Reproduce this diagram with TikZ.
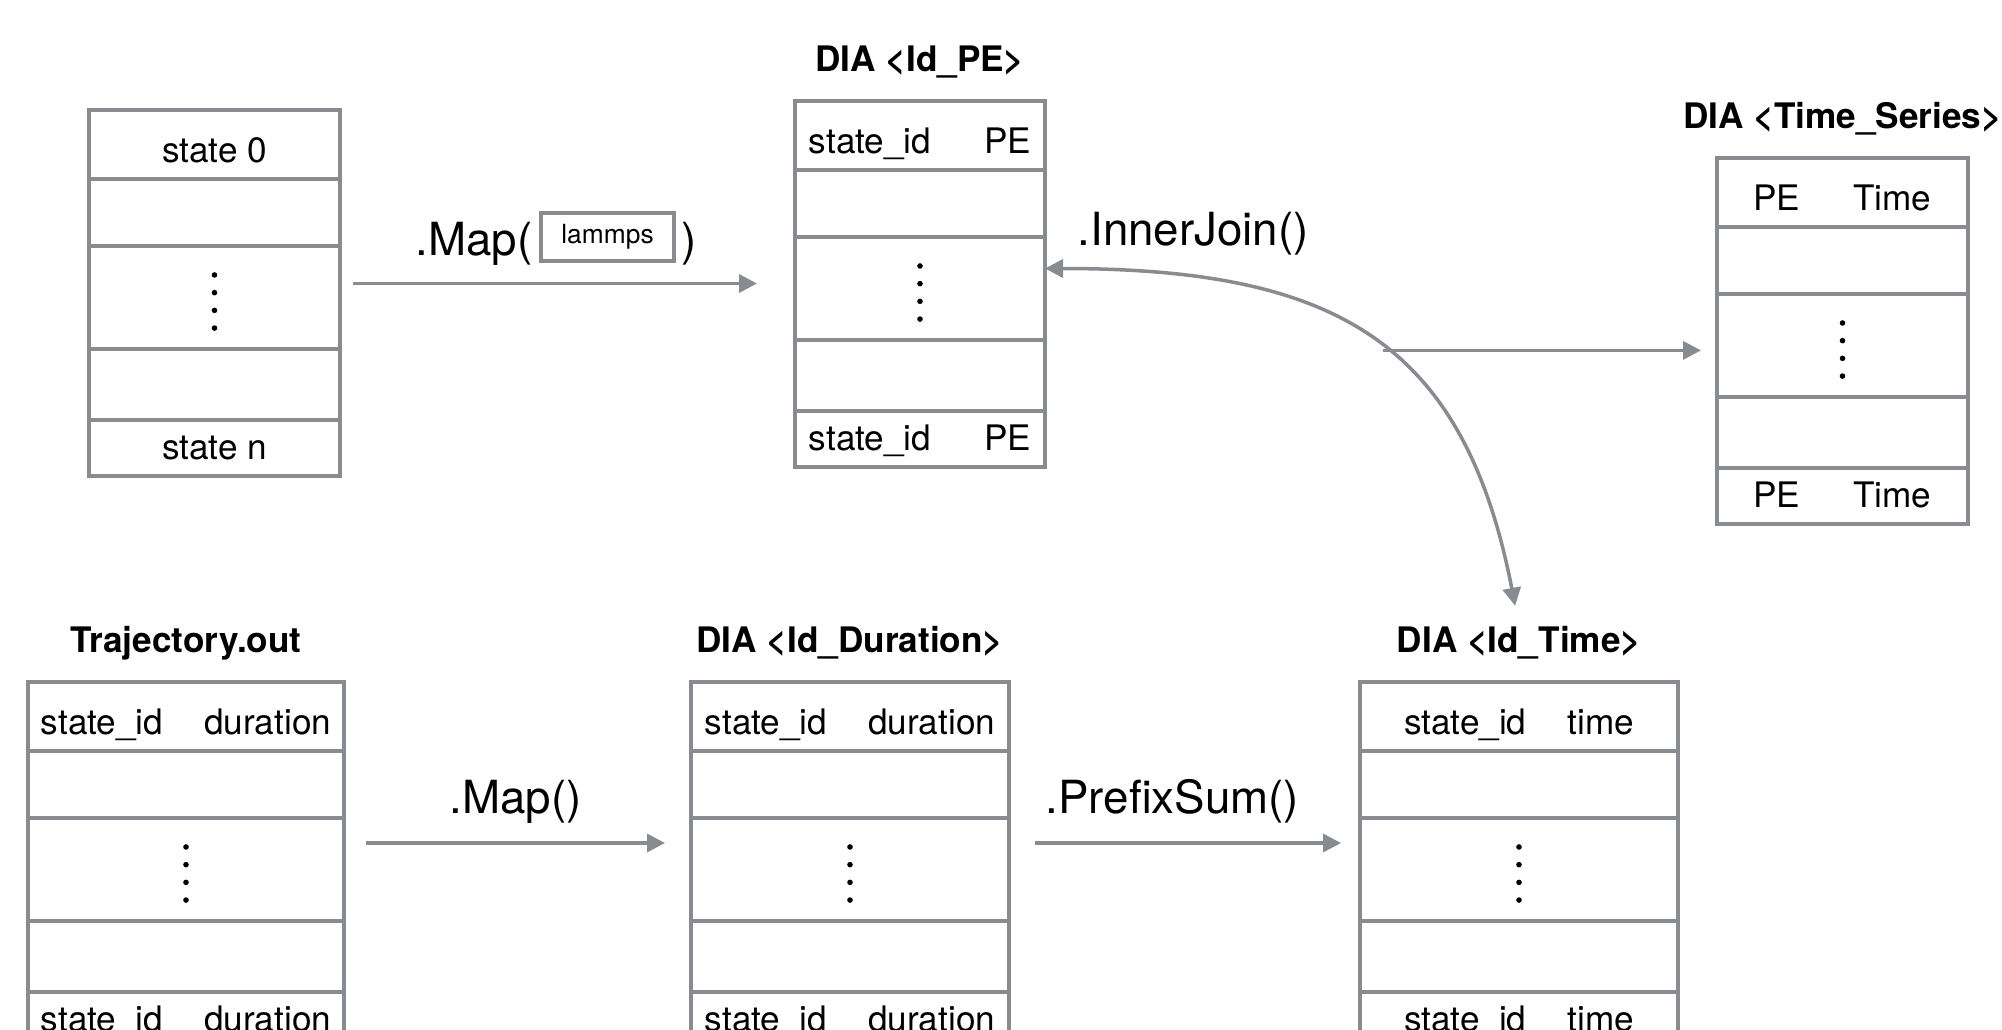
\documentclass[tikz,border=0pt]{standalone}
\usepackage{fontspec}
\setmainfont{TeX Gyre Heros}
\usepackage{tikz}
\usetikzlibrary{positioning, arrows.meta}
\definecolor{lineGray}{RGB}{136, 139, 144}

\begin{document}
\begin{tikzpicture}[
    cell/.style={rectangle, draw=lineGray, line width=1pt, outer sep=0pt,
                 inner sep=0pt, font=\fontsize{10}{12}\selectfont},
    dianame/.style={font=\fontsize{10}{12}\selectfont\bfseries,
                    inner sep=0pt, text depth=0pt},
    oplabel/.style={font=\fontsize{13}{15}\selectfont, inner sep=0pt},
    arr/.style={-{Triangle[length=1.8mm, width=1.8mm]}, line width=1pt, lineGray},
    arrboth/.style={{Triangle[length=1.8mm, width=1.8mm]}-{Triangle[length=1.8mm, width=1.8mm]},
                    line width=1pt, lineGray},
  ]
    \useasboundingbox (0,0) rectangle (20.02,-10.30);
    \clip (0,0) rectangle (20.02,-10.30);

    % Tables: five rows each, dots in the middle row
    \foreach \tb/\x/\y/\w/\first/\last in {
        st/0.89/1.10/2.51/{state 0}/{state n},
        pe/7.95/1.01/2.50/{state\_id\hspace{0.53cm}PE}/{state\_id\hspace{0.53cm}PE},
        ts/17.17/1.58/2.51/{PE\hspace{0.53cm}Time}/{PE\hspace{0.53cm}Time},
        tr/0.28/6.82/3.16/{state\_id\hspace{0.41cm}duration}/{state\_id\hspace{0.41cm}duration},
        du/6.91/6.82/3.18/{state\_id\hspace{0.41cm}duration}/{state\_id\hspace{0.41cm}duration},
        ti/13.60/6.82/3.18/{state\_id\hspace{0.41cm}time}/{state\_id\hspace{0.41cm}time}} {
      \node[cell, anchor=north west, minimum width=\w cm, minimum height=0.69cm,
            text height=10pt, text depth=0pt] (\tb1) at (\x,-\y) {\first};
      \node[cell, below=0pt of \tb1, minimum width=\w cm, minimum height=0.67cm] (\tb2) {};
      \node[cell, below=0pt of \tb2, minimum width=\w cm, minimum height=1.03cm] (\tb3) {};
      \node[cell, below=0pt of \tb3, minimum width=\w cm, minimum height=0.71cm] (\tb4) {};
      \node[cell, below=0pt of \tb4, minimum width=\w cm, minimum height=0.56cm,
            text height=6.8pt, text depth=0pt] (\tb5) {\last};
      \foreach \k in {1,...,4}
        \fill[black] ([yshift={(2.5-\k)*0.177cm-0.04cm}]\tb3.center) circle (0.028cm);
    }

    % Table names
    \node[dianame, above=0.29cm of pe1] (peName) {DIA <Id\_PE>};
    \node[dianame, above=0.29cm of ts1] (tsName) {DIA <Time\_Series>};
    \node[dianame, above=0.29cm of tr1] (trName) {Trajectory.out};
    \node[dianame, above=0.29cm of du1] (duName) {DIA <Id\_Duration>};
    \node[dianame, above=0.29cm of ti1] (tiName) {DIA <Id\_Time>};

    % Operation labels
    \node[oplabel, anchor=base west] (mapOpen) at (4.15,-2.55) {.Map(};
    \node[cell, font=\fontsize{7.5}{9}\selectfont, minimum width=1.33cm,
          minimum height=0.48cm] (lammpsBox) at (6.075,-2.37) {lammps};
    \node[oplabel, anchor=base west] (mapClose) at (6.81,-2.55) {)};
    \node[oplabel, anchor=base west] (joinTxt) at (10.77,-2.45) {.InnerJoin()};
    \node[oplabel, anchor=base west] (mapTxt) at (4.49,-8.13) {.Map()};
    \node[oplabel, anchor=base west] (prefixTxt) at (10.45,-8.13) {.PrefixSum()};

    % Arrows
    \draw[arr, shorten <=0.13cm, shorten >=0.38cm]
      ([yshift=1.4mm]st3.east) -- ([yshift=1.4mm]st3.east -| pe3.west);
    \draw[arr, shorten <=0.22cm, shorten >=0.26cm]
      ([yshift=2.65mm]tr3.east) -- ([yshift=2.65mm]tr3.east -| du3.west);
    \draw[arr, shorten <=0.26cm, shorten >=0.19cm]
      ([yshift=2.65mm]du3.east) -- ([yshift=2.65mm]du3.east -| ti3.west);

    % Join curve and its branch
    \draw[arrboth, shorten >=0.2cm]
      ([yshift=2mm]pe3.east) to[out=0, in=101, looseness=1.25]
      coordinate[pos=0.53] (joinPt) (tiName.north);
    \draw[arr, shorten >=0.16cm] (joinPt) -- (joinPt -| ts3.west);
\end{tikzpicture}
\end{document}
